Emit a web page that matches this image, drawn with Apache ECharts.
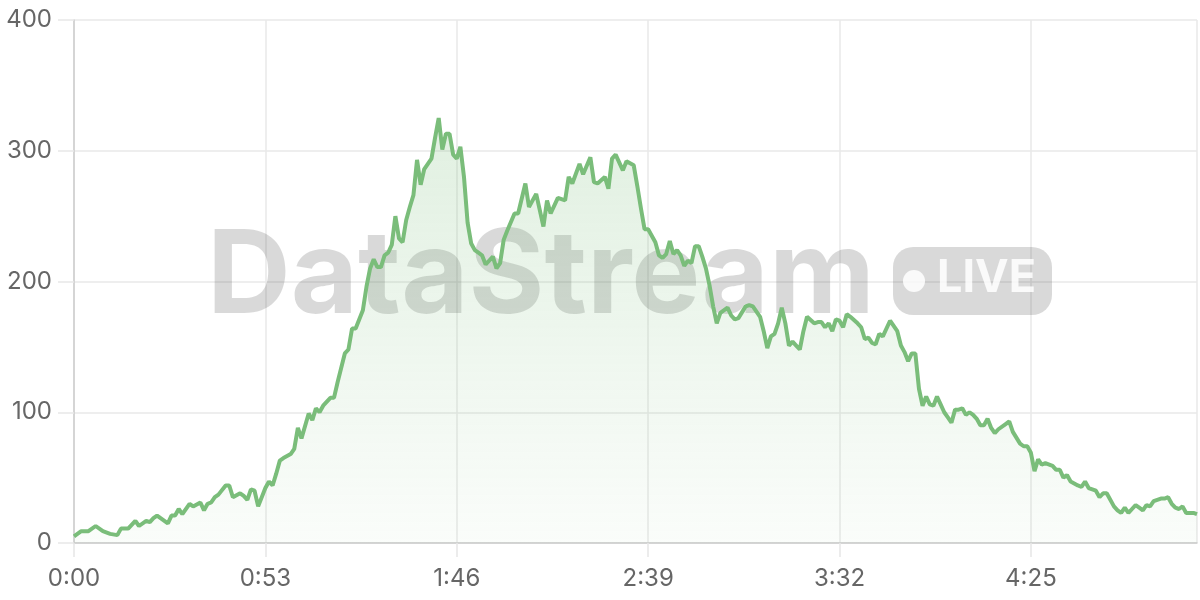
<!DOCTYPE html>
<html>
<head>
<meta charset="utf-8">
<script src="https://cdn.jsdelivr.net/npm/echarts@6/dist/echarts.min.js"></script>
<style>html,body{margin:0;padding:0;background:#fff}#c{width:1200px;height:600px}</style>
</head>
<body>
<div id="c"></div>
<script>
// elapsed seconds
const times = [0,2,4,6,8,10,12,13,15,17,18,20,21,22,23,26,27,28,29,30,32,33,35,36,37,38,39,40,42,43,44,46,47,48,49,50,51,53,54,55,56,57,58,60,61,62,63,65,66,67,68,69,71,72,73,75,76,77,78,80,81,82,83,84,85,86,87,88,89,90,91,92,93,94,95,96,97,98,99,100,101,102,103,104,105,106,107,108,109,110,111,112,113,114,116,117,118,119,120,122,123,125,126,128,130,131,132,134,135,136,137,138,140,141,143,144,145,147,148,149,150,152,153,155,156,157,158,159,160,161,162,163,164,165,166,167,168,169,170,171,172,173,174,175,176,177,178,179,181,182,183,184,186,187,188,189,190,191,192,193,194,195,196,197,198,199,200,201,202,203,205,206,207,208,209,210,211,212,213,214,215,217,218,219,220,221,222,223,224,226,228,229,230,231,232,233,234,235,236,237,238,239,240,241,242,243,244,245,246,247,248,249,250,251,252,253,254,255,256,258,259,260,262,263,264,265,266,267,268,269,271,272,273,274,275,276,278,279,280,281,283,284,285,286,288,289,290,291,292,293,294,295,296,297,298,299,300,301,302,303,304,305,306,307,308,309,310,311];
// viewers
const values = [5,9,9,13,9,7,6,11,11,17,13,17,16,19,21,15,21,21,26,22,30,28,31,25,30,31,35,37,44,44,35,38,36,33,41,40,28,42,47,44,53,63,65,68,72,88,80,99,94,103,100,105,111,111,123,145,148,164,164,178,196,210,217,211,211,220,222,228,250,233,230,247,257,266,293,274,286,290,294,310,325,301,313,313,297,294,303,280,245,229,224,222,220,213,219,210,214,232,239,252,252,275,257,267,242,262,252,264,263,262,280,275,290,282,295,276,275,280,271,294,297,285,292,289,273,256,240,240,235,230,220,218,221,231,221,224,220,212,216,214,227,227,219,210,197,181,168,176,180,174,171,172,181,182,181,177,173,162,149,158,160,168,180,168,151,154,151,148,162,173,168,169,169,165,168,162,171,170,165,175,173,168,165,156,157,153,152,160,158,170,162,151,146,139,145,145,118,105,112,106,105,112,106,100,96,92,102,102,103,98,100,98,95,90,90,95,88,84,87,91,93,85,76,74,74,69,55,64,60,61,59,56,56,50,52,47,44,43,47,42,40,35,38,38,28,25,23,27,23,26,29,27,25,29,28,32,33,34,34,35,30,27,26,28,23,23,23,22];
const yTicks = [0,100,200,300,400];
const xTickStep = 53;

const data = times.map((t, i) => [t, values[i]]);
function fmt(s){ const m = Math.floor(s/60), r = Math.round(s%60); return m + ':' + (r<10?'0':'') + r; }

const chart = echarts.init(document.getElementById('c'));
const wm = 'rgba(0,0,0,0.15)';
chart.setOption({
  animation: false,
  grid: { left: 74, right: 3, top: 20, bottom: 57 },
  xAxis: {
    type: 'value', min: 0, max: 311, interval: xTickStep,
    axisLine: { lineStyle: { color: '#cccccc', width: 1.5 } },
    axisTick: { show: true, length: 14, lineStyle: { color: '#e6e6e6', width: 1.5 } },
    splitLine: { show: true, lineStyle: { color: '#e8e8e8', width: 1.5 } },
    axisLabel: { formatter: v => fmt(v), color: '#666', fontSize: 24, margin: 24, fontFamily: 'Inter', showMaxLabel: false }
  },
  yAxis: {
    type: 'value', min: yTicks[0], max: yTicks[yTicks.length-1], interval: 100,
    axisLine: { show: true, lineStyle: { color: '#cccccc', width: 1.5 } },
    axisTick: { show: true, length: 16, lineStyle: { color: '#e8e8e8', width: 1.5 } },
    splitLine: { lineStyle: { color: '#e8e8e8', width: 1.5 } },
    axisLabel: { color: '#666', fontSize: 24, margin: 22, fontFamily: 'Inter' }
  },
  graphic: [
    { type: 'text', z: 1, left: 207, top: 220, style: { text: 'DataStream', font: 'bold 116px Inter', fill: wm } },
    { type: 'rect', z: 1, shape: { x: 893, y: 247, width: 159, height: 68, r: 20 }, style: { fill: wm } },
    { type: 'circle', z: 1, shape: { cx: 914, cy: 281, r: 11 }, style: { fill: 'rgba(255,255,255,0.85)' } },
    { type: 'text', z: 1, left: 937, top: 256, style: { text: 'LIVE', font: 'bold 45px Inter', fill: 'rgba(255,255,255,0.85)' } }
  ],
  series: [{
    type: 'line', data: data, showSymbol: false, z: 3,
    lineStyle: { color: '#7abd7a', width: 4 },
    itemStyle: { color: '#7abd7a' },
    areaStyle: { color: new echarts.graphic.LinearGradient(0, 0, 0, 1, [
      { offset: 0, color: 'rgba(120,188,120,0.32)' },
      { offset: 1, color: 'rgba(120,188,120,0.05)' }
    ]) }
  }]
});
</script>
</body>
</html>
